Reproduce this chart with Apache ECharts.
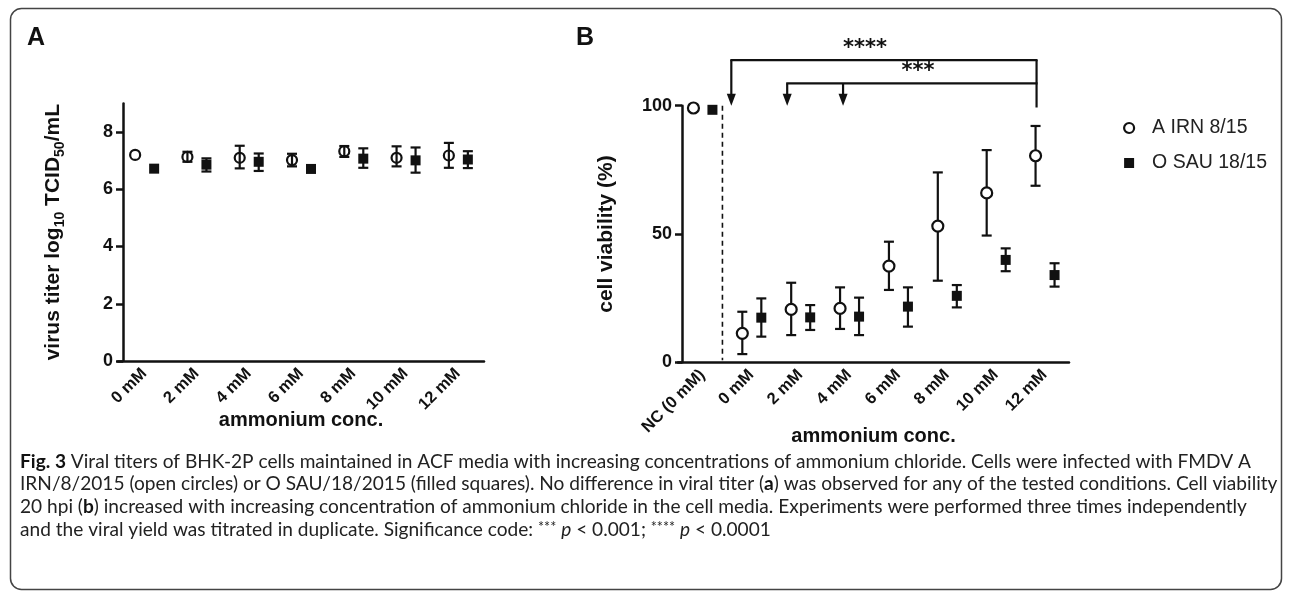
<!DOCTYPE html>
<html><head><meta charset="utf-8">
<script src="https://cdn.jsdelivr.net/npm/echarts@6/dist/echarts.min.js"></script>
<style>html,body{margin:0;padding:0;background:#fff}#c{width:1292px;height:597px}</style>
</head><body><div id="c"></div>
<script>
// ---------------- data ----------------
const catsA = ['0 mM', '2 mM', '4 mM', '6 mM', '8 mM', '10 mM', '12 mM'];
const titerIRN = [7.20, 7.13, 7.10, 7.02, 7.33, 7.10, 7.18];
const titerIRNLow = [null, 6.96, 6.73, 6.80, 7.13, 6.80, 6.75];
const titerIRNHigh = [null, 7.31, 7.52, 7.24, 7.51, 7.50, 7.62];
const titerSAU = [6.72, 6.86, 6.96, 6.71, 7.07, 7.01, 7.04];
const titerSAULow = [null, 6.62, 6.64, null, 6.75, 6.58, 6.74];
const titerSAUHigh = [null, 7.08, 7.25, null, 7.43, 7.46, 7.33];
const ticksA = [0, 2, 4, 6, 8];

const catsB = ['NC (0 mM)', '0 mM', '2 mM', '4 mM', '6 mM', '8 mM', '10 mM', '12 mM'];
const viabIRN = [99.1, 11.3, 20.6, 21.0, 37.5, 53.1, 66.0, 80.5];
const viabIRNLow = [null, 3.2, 10.6, 13.0, 28.2, 31.8, 49.4, 68.8];
const viabIRNHigh = [null, 19.7, 31.0, 29.2, 47.0, 74.0, 82.7, 92.1];
const viabSAU = [98.4, 17.4, 17.5, 17.8, 21.7, 25.9, 39.9, 34.0];
const viabSAULow = [null, 10.0, 12.6, 10.6, 13.9, 21.4, 35.5, 29.5];
const viabSAUHigh = [null, 24.9, 22.3, 25.2, 29.2, 30.1, 44.4, 38.6];
const ticksB = [0, 50, 100];

const seriesNames = ['A IRN 8/15', 'O SAU 18/15'];
const sigTests = [
  { label: '****', targets: ['0 mM'], ref: '12 mM' },
  { label: '***', targets: ['2 mM', '4 mM'], ref: '12 mM' }
];
const captionLines = [
  '{b|Fig. 3} Viral titers of BHK-2P cells maintained in ACF media with increasing concentrations of ammonium chloride. Cells were infected with FMDV A',
  'IRN/8/2015 (open circles) or O SAU/18/2015 (filled squares). No difference in viral titer ({b|a}) was observed for any of the tested conditions. Cell viability',
  '20 hpi ({b|b}) increased with increasing concentration of ammonium chloride in the cell media. Experiments were performed three times independently',
  'and the viral yield was titrated in duplicate. Significance code: {s|***} {i|p} < 0.001; {s|****} {i|p} < 0.0001'
];

// ---------------- style ----------------
const FONT = "'Liberation Sans', Arial, sans-serif";
const CAPFONT = "Lato, 'Open Sans', sans-serif";
const INK = '#111';

// fit caption font size to the measured line width
const ctx = document.createElement('canvas').getContext('2d');
function plain(s) { return s.replace(/\{\w\|([^}]*)\}/g, '$1'); }
const capTargets = [1250, 1251, 1215];
let ratio = 0;
capTargets.forEach((t, i) => { ctx.font = '17px ' + CAPFONT; ratio += t / ctx.measureText(plain(captionLines[i])).width; });
const capSize = 17 * ratio / capTargets.length;

function errSeries(grid, mean, low, high, dx) {
  const data = [];
  mean.forEach((m, i) => { if (low[i] != null) data.push([i, m, low[i], high[i]]); });
  return {
    type: 'custom', xAxisIndex: grid, yAxisIndex: grid, z: 2, silent: true,
    renderItem(params, api) {
      const lo = api.coord([api.value(0), api.value(2)]);
      const hi = api.coord([api.value(0), api.value(3)]);
      const x = lo[0] + dx, cw = 5;
      const st = { stroke: INK, lineWidth: 2.2 };
      return { type: 'group', children: [
        { type: 'line', shape: { x1: x, y1: hi[1], x2: x, y2: lo[1] }, style: st },
        { type: 'line', shape: { x1: x - cw, y1: hi[1], x2: x + cw, y2: hi[1] }, style: st },
        { type: 'line', shape: { x1: x - cw, y1: lo[1], x2: x + cw, y2: lo[1] }, style: st }
      ] };
    },
    encode: { x: 0, y: [1, 2, 3] },
    data
  };
}

function xAxisCfg(grid, cats, gap) {
  return {
    type: 'category', gridIndex: grid, data: cats,
    axisLine: { lineStyle: { color: INK, width: 2.5 } },
    axisTick: { alignWithLabel: true, length: 7, lineStyle: { color: INK, width: 2.5 } },
    axisLabel: { rotate: 45, fontFamily: FONT, fontWeight: 'bold', fontSize: 16.5, color: INK, margin: 10 },
    name: 'ammonium conc.', nameLocation: 'middle', nameGap: gap, nameMoveOverlap: false,
    nameTextStyle: { fontFamily: FONT, fontWeight: 'bold', fontSize: 20, color: INK }
  };
}
function yAxisCfg(grid, max, ticks, name, gap, off) {
  return {
    type: 'value', gridIndex: grid, min: 0, max: max, interval: ticks[1] - ticks[0], offset: off,
    axisLine: { show: true, lineStyle: { color: INK, width: 2.5 } },
    axisTick: { show: true, length: 7, customValues: ticks, lineStyle: { color: INK, width: 2.5 } },
    axisLabel: { customValues: ticks, fontFamily: FONT, fontWeight: 'bold', fontSize: 18, color: INK, margin: 10 },
    splitLine: { show: false },
    name: name, nameLocation: 'middle', nameRotate: 90, nameGap: gap, nameMoveOverlap: false,
    nameTextStyle: {
      fontFamily: FONT, fontWeight: 'bold', fontSize: 21, color: INK, lineHeight: 27,
      rich: { s: { fontFamily: FONT, fontWeight: 'bold', fontSize: 14, color: INK, lineHeight: 14, verticalAlign: 'bottom' } }
    }
  };
}

const circleStyle = (fill) => ({ color: fill, borderColor: INK, borderWidth: 2.2, opacity: 1 });
const squareStyle = { color: INK, opacity: 1 };

const annot = {
  type: 'custom', xAxisIndex: 1, yAxisIndex: 1, z: 5, silent: true, clip: false,
  data: [[0, 0]],
  renderItem(params, api) {
    const xAt = (cat, dx) => api.coord([catsB.indexOf(cat), 0])[0] + dx;
    const yAt = v => api.coord([0, v])[1];
    const st = { stroke: INK, lineWidth: 2.2, fill: null };
    const ch = [];
    // dashed separator between control and treatments
    ch.push({ type: 'line', shape: { x1: xAt(catsB[0], 20), y1: yAt(100), x2: xAt(catsB[0], 20), y2: yAt(0) - 2 },
      style: { stroke: INK, lineWidth: 1.6, lineDash: [5, 4] } });
    const levels = [117.8, 108.7];
    const tipDx = [[-20], [-13, -6]];
    const starPos = [['4 mM', 16], ['6 mM', 20]];
    sigTests.forEach((t, k) => {
      const yl = yAt(levels[k]);
      const xr = xAt(t.ref, -8);
      const tips = t.targets.map((c, j) => xAt(c, tipDx[k][j]));
      ch.push({ type: 'line', shape: { x1: tips[0] - 1, y1: yl, x2: xr + 1, y2: yl }, style: st });
      const yTip = yAt(100);
      tips.forEach(x => {
        ch.push({ type: 'line', shape: { x1: x, y1: yl, x2: x, y2: yTip - 10 }, style: st });
        ch.push({ type: 'polygon', shape: { points: [[x - 4.5, yTip - 12], [x + 4.5, yTip - 12], [x, yTip]] }, style: { fill: INK } });
      });
      ch.push({ type: 'text', x: xAt(starPos[k][0], starPos[k][1]), y: yl - 1,
        style: { text: t.label, fill: INK, font: "bold 21px 'DejaVu Sans', sans-serif", align: 'center', verticalAlign: 'bottom' } });
    });
    ch.push({ type: 'line', shape: { x1: xAt('12 mM', -8), y1: yAt(levels[0]), x2: xAt('12 mM', -8), y2: yAt(99.3) }, style: st });
    return { type: 'group', children: ch };
  }
};

const option = {
  backgroundColor: '#fff',
  animation: false,
  grid: [
    { left: 118, top: 103.4, width: 366, height: 257.6 },
    { left: 678, top: 105.7, width: 391, height: 256.6 }
  ],
  xAxis: [xAxisCfg(0, catsA, 49), xAxisCfg(1, catsB, 64)],
  yAxis: [
    yAxisCfg(0, 9, ticksA, 'virus titer log{s|10} TCID{s|50}/mL', 56, -5),
    yAxisCfg(1, 100, ticksB, 'cell viability (%)', 62, -4)
  ],
  legend: {
    orient: 'vertical', left: 1118, top: 113, itemWidth: 10, itemHeight: 10, itemGap: 15,
    selectedMode: false,
    textStyle: { fontFamily: FONT, fontSize: 19.5, color: '#222', lineHeight: 20, padding: [0, 0, 0, 13] },
    data: [
      { name: seriesNames[0], icon: 'circle', itemStyle: circleStyle('#fff') },
      { name: seriesNames[1], icon: 'rect', itemStyle: squareStyle }
    ]
  },
  graphic: [
    { type: 'rect', shape: { x: 10.5, y: 8.5, width: 1271, height: 581, r: 11 }, style: { fill: 'none', stroke: '#444', lineWidth: 1.5 }, z: 0 },
    { type: 'text', left: 27, top: 26, style: { text: 'A', font: "bold 25px 'Liberation Sans', Arial", fill: INK } },
    { type: 'text', left: 576, top: 26, style: { text: 'B', font: "bold 25px 'Liberation Sans', Arial", fill: INK } },
    ...captionLines.map((line, i) => ({
      type: 'text', left: 20, top: 452 + i * 22.8,
      style: {
        text: line, fill: '#222', fontFamily: CAPFONT, fontSize: capSize,
        rich: {
          b: { fontFamily: CAPFONT, fontSize: capSize, fontWeight: 'bold', fill: '#111' },
          i: { fontFamily: CAPFONT, fontSize: capSize, fontStyle: 'italic', fill: '#222' },
          s: { fontFamily: CAPFONT, fontSize: capSize * 0.75, fill: '#222', verticalAlign: 'top' }
        }
      }
    }))
  ],
  series: [
    errSeries(0, titerIRN, titerIRNLow, titerIRNHigh, -9),
    errSeries(0, titerSAU, titerSAULow, titerSAUHigh, 10),
    errSeries(1, viabIRN, viabIRNLow, viabIRNHigh, -9),
    errSeries(1, viabSAU, viabSAULow, viabSAUHigh, 10),
    { name: seriesNames[0], type: 'scatter', xAxisIndex: 0, yAxisIndex: 0, z: 3, symbol: 'circle', symbolSize: 10, symbolOffset: [-9, 0],
      itemStyle: circleStyle('rgba(255,255,255,0)'), data: titerIRN },
    { name: seriesNames[1], type: 'scatter', xAxisIndex: 0, yAxisIndex: 0, z: 3, symbol: 'rect', symbolSize: 10, symbolOffset: [10, 0],
      itemStyle: squareStyle, data: titerSAU },
    { name: seriesNames[0], type: 'scatter', xAxisIndex: 1, yAxisIndex: 1, z: 3, symbol: 'circle', symbolSize: 11, symbolOffset: [-9, 0],
      itemStyle: circleStyle('#fff'), data: viabIRN },
    { name: seriesNames[1], type: 'scatter', xAxisIndex: 1, yAxisIndex: 1, z: 3, symbol: 'rect', symbolSize: 10, symbolOffset: [10, 0],
      itemStyle: squareStyle, data: viabSAU },
    annot
  ]
};
const chart = echarts.init(document.getElementById('c'), null, { renderer: 'canvas' });
chart.setOption(option);
</script>
</body></html>
